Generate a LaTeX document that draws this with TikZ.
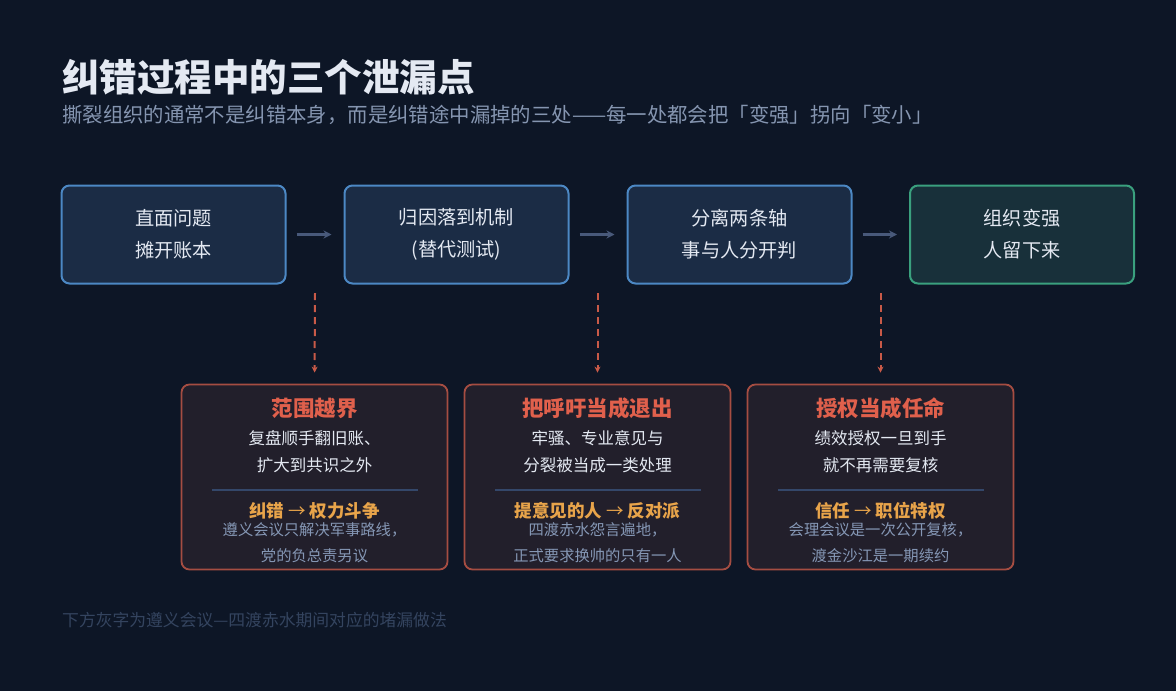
\documentclass[tikz,border=0pt]{standalone}
\usepackage{fontspec}
\setmainfont{Noto Sans CJK SC}
\usepackage{tikz}
\usetikzlibrary{arrows.meta, positioning, calc}
\definecolor{pagebg}{RGB}{13,22,38}
\definecolor{stagefill}{RGB}{27,44,69}
\definecolor{stageedge}{RGB}{76,136,196}
\definecolor{growfill}{RGB}{24,48,58}
\definecolor{growedge}{RGB}{58,160,126}
\definecolor{leakfill}{RGB}{34,31,43}
\definecolor{leakedge}{RGB}{165,77,66}
\definecolor{leakred}{RGB}{224,96,76}
\definecolor{dashred}{RGB}{200,90,72}
\definecolor{shiftamber}{RGB}{232,164,74}
\definecolor{textwhite}{RGB}{228,233,242}
\definecolor{notegray}{RGB}{133,151,181}
\definecolor{subgray}{RGB}{133,149,176}
\definecolor{footgray}{RGB}{52,68,95}
\definecolor{arrowgray}{RGB}{72,89,122}
\definecolor{rulegray}{RGB}{52,71,106}
\newcommand{\shiftto}{\ {\mdseries →}\ }

\begin{document}
\begin{tikzpicture}[x=1pt, y=-1pt,
    stagebox/.style={rectangle, rounded corners=8pt, draw=stageedge, line width=2pt,
                fill=stagefill, minimum width=224pt, minimum height=98pt,
                text=textwhite, align=center, font=\fontsize{19.2}{32}\selectfont},
    leakbox/.style={rectangle, rounded corners=8pt, draw=leakedge, line width=1.8pt,
                fill=leakfill, minimum width=266pt, minimum height=185pt},
    leaktitle/.style={text=leakred, font=\bfseries\fontsize{21.5}{24}\selectfont},
    leakdesc/.style={text=textwhite, align=center, font=\fontsize{16.5}{27}\selectfont},
    shiftline/.style={text=shiftamber, font=\bfseries\fontsize{17.5}{20}\selectfont},
    history/.style={text=notegray, align=center, font=\fontsize{15.3}{26}\selectfont},
    arrow/.style={line width=2.2pt, draw=arrowgray, -{Stealth[length=8pt,width=8pt]},
                shorten <=10pt, shorten >=12pt},
    leakarrow/.style={line width=2pt, draw=dashred, dash pattern=on 7pt off 5pt,
                -{Stealth[length=6pt,width=6pt]}, shorten >=11pt}]

\useasboundingbox (0,0) rectangle (1176,691);
\fill[pagebg] (0,0) rectangle (1176,691);

% Heading
\node (title)    [anchor=west, inner sep=0pt, text=textwhite, font=\bfseries\fontsize{37.5}{40}\selectfont] at (62,77) {纠错过程中的三个泄漏点};
\node (subtitle) [anchor=west, inner sep=0pt, text=subgray, font=\fontsize{20.4}{24}\selectfont] at (62,115) {撕裂组织的通常不是纠错本身，而是纠错途中漏掉的三处——每一处都会把「变强」拐向「变小」};

% Main chain -- four stages in one row
\node (face)  [stagebox]                               at (173.5,234.5) {直面问题\\摊开账本};
\node (cause) [stagebox]                               at (456.5,234.5) {归因落到机制\\(替代测试)};
\node (split) [stagebox]                               at (739.5,234.5) {分离两条轴\\事与人分开判};
\node (grow)  [stagebox, fill=growfill, draw=growedge] at (1022,234.5)  {组织变强\\人留下来};

\draw [arrow] (face)  -- (cause);
\draw [arrow] (cause) -- (split);
\draw [arrow] (split) -- (grow);

% Leak boxes below the gaps
\node (scopecreep) [leakbox] at (314.5,477) {};
\node (voiceexit)  [leakbox] at (597.5,477) {};
\node (mandate)    [leakbox] at (880.5,477) {};

\coordinate (gap1) at (315,293);
\coordinate (gap2) at (597.5,293);
\coordinate (gap3) at (880.5,293);
\draw [leakarrow] (gap1) -- (scopecreep.north);
\draw [leakarrow] (gap2) -- (voiceexit.north);
\draw [leakarrow] (gap3) -- (mandate.north);

% Leak 1
\node (scopecreep-title) [leaktitle] at (314.5,408)   {范围越界};
\node (scopecreep-desc)  [leakdesc]  at (314.5,451.5) {复盘顺手翻旧账、\\扩大到共识之外};
\draw [rulegray, line width=1.2pt] (212,490) -- (418,490);
\node (scopecreep-shift) [shiftline] at (314.5,511)   {纠错\shiftto 权力斗争};
\node (scopecreep-hist)  [history]   at (314.5,543)   {遵义会议只解决军事路线，\\党的负总责另议};

% Leak 2
\node (voiceexit-title) [leaktitle] at (597.5,408)   {把呼吁当成退出};
\node (voiceexit-desc)  [leakdesc]  at (597.5,451.5) {牢骚、专业意见与\\分裂被当成一类处理};
\draw [rulegray, line width=1.2pt] (495,490) -- (701,490);
\node (voiceexit-shift) [shiftline] at (597.5,511)   {提意见的人\shiftto 反对派};
\node (voiceexit-hist)  [history]   at (597.5,543)   {四渡赤水怨言遍地，\\正式要求换帅的只有一人};

% Leak 3
\node (mandate-title) [leaktitle] at (880.5,408)   {授权当成任命};
\node (mandate-desc)  [leakdesc]  at (880.5,451.5) {绩效授权一旦到手\\就不再需要复核};
\draw [rulegray, line width=1.2pt] (778,490) -- (984,490);
\node (mandate-shift) [shiftline] at (880.5,511)   {信任\shiftto 职位特权};
\node (mandate-hist)  [history]   at (880.5,543)   {会理会议是一次公开复核，\\渡金沙江是一期续约};

% Footnote
\node (footnote) [anchor=west, inner sep=0pt, text=footgray, font=\fontsize{16.8}{20}\selectfont] at (62,620) {下方灰字为遵义会议—四渡赤水期间对应的堵漏做法};

\end{tikzpicture}
\end{document}
